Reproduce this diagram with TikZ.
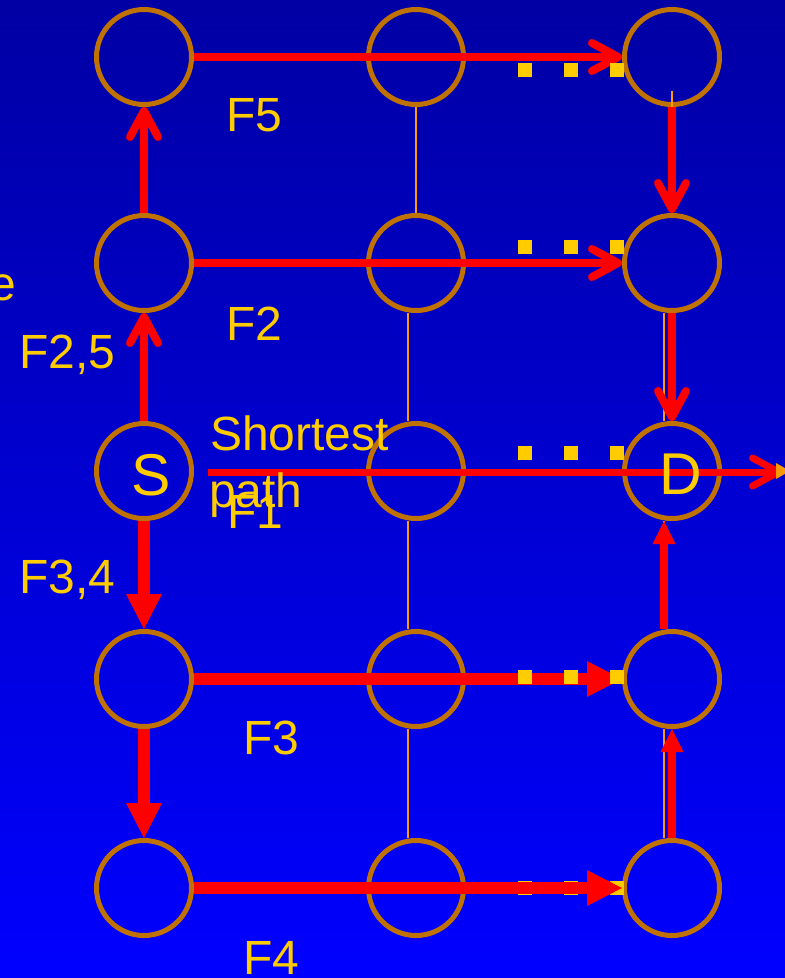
\documentclass[tikz,border=0pt]{standalone}
\usepackage{fontspec}
\setmainfont{Liberation Sans}
\usetikzlibrary{arrows.meta,calc}
\definecolor{ring}{RGB}{192,114,0}
\definecolor{thinor}{RGB}{255,153,0}
\definecolor{gold}{RGB}{255,204,0}
\definecolor{topblue}{RGB}{0,0,164}
\definecolor{botblue}{RGB}{0,0,255}
\begin{document}
\begin{tikzpicture}[x=1pt,y=-1pt,
  vertex/.style={circle,draw=ring,line width=5pt,minimum size=95pt,inner sep=0pt},
  thinline/.style={draw=thinor,line width=2pt},
  barb/.style={draw=red,line width=8pt,-{Straight Barb[length=26pt,width=28pt,round]}},
  bigtri/.style={draw=red,line width=12pt,-{Triangle[length=35pt,width=36pt,line width=0pt]}},
  smalltri/.style={draw=red,line width=8pt,-{Triangle[length=23pt,width=23pt,line width=0pt]}},
  dotsq/.style={fill=gold,minimum size=14pt,inner sep=0pt,outer sep=0pt},
  lbl/.style={text=gold,font=\fontsize{48}{57}\selectfont,inner sep=0pt,anchor=base west},
  big/.style={text=gold,font=\fontsize{59}{69}\selectfont,inner sep=0pt,anchor=base}
]
\useasboundingbox (0,0) rectangle (785,978);
\clip (0,0) rectangle (785,978);
\shade[top color=topblue,bottom color=botblue] (0,0) rectangle (785,978);

% circles
\foreach \c/\x in {1/144,2/416,3/672}
  \foreach \r/\y in {1/57,2/263,3/471,4/679,5/888}
    \node[vertex] (c\c\r) at (\x,\y) {};

% thin orange links
\draw[thinline] (c21.south) -- (c22.north);
\draw[thinline] ([xshift=-8pt]c22.south) -- ([xshift=-8pt]c23.north);
\draw[thinline] ([xshift=-8pt]c23.south) -- ([xshift=-8pt]c24.north);
\draw[thinline] ([xshift=-8pt]c24.south) -- ([xshift=-8pt]c25.north);
\draw[thinline] ([yshift=16pt]c31.south) -- (c32.north);
\draw[thinline] ([xshift=-8pt]c32.south) -- ([xshift=-8pt]c33.north);
\draw[thinline] ([xshift=-8pt]c33.south) -- ([xshift=-8pt]c34.north);
\draw[thinline] ([xshift=-8pt]c34.south) -- ([xshift=-8pt]c35.north);

% row 5 dots (below the red line)
\foreach \i/\x in {1/525,2/571,3/617}
  \node[dotsq] (d5\i) at (\x,888) {};

% red arrows
\draw[barb] (c11.east) -- (c31.west);
\draw[barb] (c12.north) -- (c11.south);
\draw[barb] (c12.east) -- (c32.west);
\draw[barb] (c13.north) -- (c12.south);
\draw[barb] (c31.south) -- (c32.north);
\draw[barb] (c32.south) -- (c33.north);
\coordinate (sp0) at (208,472);
\coordinate (sp1) at (782,472);
\draw[barb,line width=7pt] (sp0) -- (sp1);
\coordinate (tipa) at (776,463);
\coordinate (tipb) at (790,471);
\coordinate (tipc) at (776,479);
\fill[thinor] (tipa) -- (tipb) -- (tipc) -- cycle;
\draw[bigtri] (c13.south) -- (c14.north);
\draw[bigtri] (c14.south) -- (c15.north);
\draw[bigtri] (c14.east) -- (c34.west);
\draw[bigtri] (c15.east) -- (c35.west);
\draw[smalltri] ([xshift=-8pt]c34.north) -- ([xshift=-8pt]c33.south);
\draw[smalltri] (c35.north) -- (c34.south);

% dots rows 1-4
\foreach \r/\y in {1/70,2/247,3/453,4/677}
  \foreach \i/\x in {1/525,2/571,3/617}
    \node[dotsq] (d\r\i) at (\x,\y) {};

% labels
\node[lbl] (tF5) at (226,131) {F5};
\node[lbl] (tF2) at (226,340) {F2};
\node[lbl] (tF25) at (19,368) {F2,5};
\node[lbl,anchor=base east] (te) at (16,300) {e};
\node[lbl] (tSh) at (210,450) {Shortest};
\node[lbl] (tpa) at (209,507) {path};
\node[lbl] (tF1) at (227,528) {F1};
\node[lbl] (tF34) at (19,593) {F3,4};
\node[lbl] (tF3) at (243,754) {F3};
\node[lbl] (tF4) at (243,974) {F4};
\node[big] (tS) at (151,495) {S};
\node[big] (tD) at (681,494) {D};
\end{tikzpicture}
\end{document}
